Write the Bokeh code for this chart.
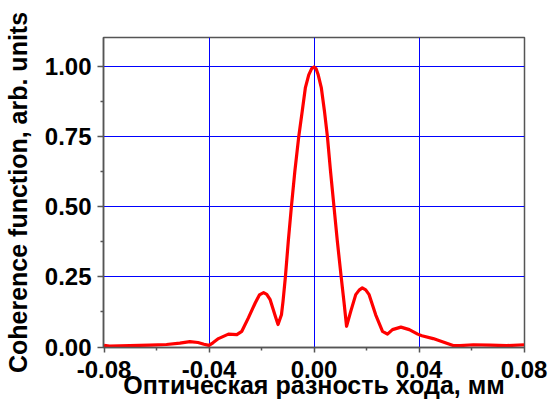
from bokeh.plotting import figure
from bokeh.models import Range1d, FixedTicker, LinearAxis, Grid
from bokeh.embed import file_html
from bokeh.resources import INLINE

# Optical path difference, mm
opd = [-0.0800, -0.0779, -0.0702, -0.0626, -0.0562, -0.0511, -0.0473, -0.0442,
       -0.0419, -0.0400, -0.0385, -0.0364, -0.0326, -0.0294, -0.0275, -0.0250,
       -0.0224, -0.0208, -0.0192, -0.0180, -0.0167, -0.0147, -0.0137, -0.0124,
       -0.0118, -0.0109, -0.0098, -0.0086, -0.0073, -0.0058, -0.0045, -0.0033,
       -0.0020, -0.0009, 0.0000, 0.0008, 0.0016, 0.0028, 0.0040, 0.0051,
       0.0063, 0.0076, 0.0089, 0.0103, 0.0114, 0.0124, 0.0140, 0.0159,
       0.0172, 0.0184, 0.0197, 0.0210, 0.0235, 0.0261, 0.0280, 0.0299,
       0.0331, 0.0363, 0.0395, 0.0411, 0.0454, 0.0492, 0.0530, 0.0556,
       0.0607, 0.0671, 0.0734, 0.0800]
# Coherence function, arb. units
coherence = [0.006, 0.003, 0.005, 0.007, 0.009, 0.014, 0.019, 0.016,
             0.010, 0.006, 0.015, 0.030, 0.046, 0.044, 0.056, 0.104,
             0.157, 0.186, 0.194, 0.188, 0.169, 0.109, 0.080, 0.115,
             0.163, 0.250, 0.377, 0.502, 0.627, 0.752, 0.841, 0.925,
             0.972, 0.994, 1.000, 0.994, 0.972, 0.925, 0.841, 0.752,
             0.627, 0.502, 0.377, 0.255, 0.163, 0.074, 0.127, 0.187,
             0.203, 0.211, 0.204, 0.187, 0.115, 0.056, 0.046, 0.062,
             0.071, 0.062, 0.046, 0.040, 0.030, 0.018, 0.005, 0.005,
             0.008, 0.007, 0.005, 0.008]

x_major = [-0.08, -0.04, 0.0, 0.04, 0.08]
x_minor = [-0.06, -0.02, 0.02, 0.06]
x_grid = [-0.04, 0.0, 0.04]
x_tick_labels = {-0.08: "-0.08", -0.04: "-0.04", 0.0: "0.00", 0.04: "0.04", 0.08: "0.08"}
y_major = [0.0, 0.25, 0.5, 0.75, 1.0]
y_minor = [0.125, 0.375, 0.625, 0.875]
y_grid = [0.25, 0.5, 0.75, 1.0]
y_tick_labels = {0.0: "0.00", 0.25: "0.25", 0.5: "0.50", 0.75: "0.75", 1.0: "1.00"}
x_title = "Оптическая разность хода, мм"
y_title = "Coherence function, arb. units"

FONT = "Liberation Sans"
AX = "#555555"
LEFT, TOP = 103, 37
FRAME_W, FRAME_H = 421, 310
PX_PER_X = 2625.0          # 105 px per 0.04 mm
# half-pixel shift so that 1px grid lines fall on pixel centres
X0 = -0.08 - 0.5 / PX_PER_X
X1 = X0 + FRAME_W / PX_PER_X
Y0 = -0.5 * 1.107 / FRAME_H
Y1 = Y0 + 1.107

p = figure(width=549, height=405, output_backend="svg", toolbar_location=None,
           x_range=Range1d(X0, X1), y_range=Range1d(Y0, Y1),
           x_axis_type=None, y_axis_type=None,
           min_border_left=LEFT, min_border_right=549 - LEFT - FRAME_W,
           min_border_top=TOP, min_border_bottom=405 - TOP - FRAME_H)
p.background_fill_color = "white"
p.border_fill_color = "white"
p.outline_line_color = AX
p.outline_line_width = 1.5


def make_axis(major, minor, labels, title):
    ax = LinearAxis(ticker=FixedTicker(ticks=major, minor_ticks=minor))
    ax.major_label_overrides = labels
    ax.axis_line_color = AX
    ax.axis_line_width = 1.5
    ax.major_tick_line_color = AX
    ax.minor_tick_line_color = AX
    ax.major_tick_line_width = 1.5
    ax.minor_tick_line_width = 1.5
    ax.major_tick_in = 0
    ax.minor_tick_in = 0
    ax.major_tick_out = 6
    ax.minor_tick_out = 3
    ax.major_label_text_font = FONT
    ax.major_label_text_font_style = "bold"
    ax.major_label_text_font_size = "24px"
    ax.major_label_text_color = "black"
    ax.axis_label = title
    ax.axis_label_text_font = FONT
    ax.axis_label_text_font_style = "bold"
    ax.axis_label_text_font_size = "25px"
    ax.axis_label_text_color = "black"
    return ax


xb = make_axis(x_major, x_minor, x_tick_labels, x_title)
xb.major_tick_out = 5
xb.major_label_standoff = 8
xb.axis_label_standoff = -10
yl = make_axis(y_major, y_minor, y_tick_labels, y_title)
yl.major_label_standoff = 6
yl.axis_label_standoff = 10
p.add_layout(xb, "below")
p.add_layout(yl, "left")

# blue grid lines
p.add_layout(Grid(dimension=0, ticker=FixedTicker(ticks=x_grid),
                  grid_line_color="#0000ff", grid_line_width=1))
p.add_layout(Grid(dimension=1, ticker=FixedTicker(ticks=y_grid),
                  grid_line_color="#0000ff", grid_line_width=1))

p.line(opd, coherence, line_color="#ff0000", line_width=3.2, line_join="round")

open("out.html", "w").write(file_html(p, INLINE))
